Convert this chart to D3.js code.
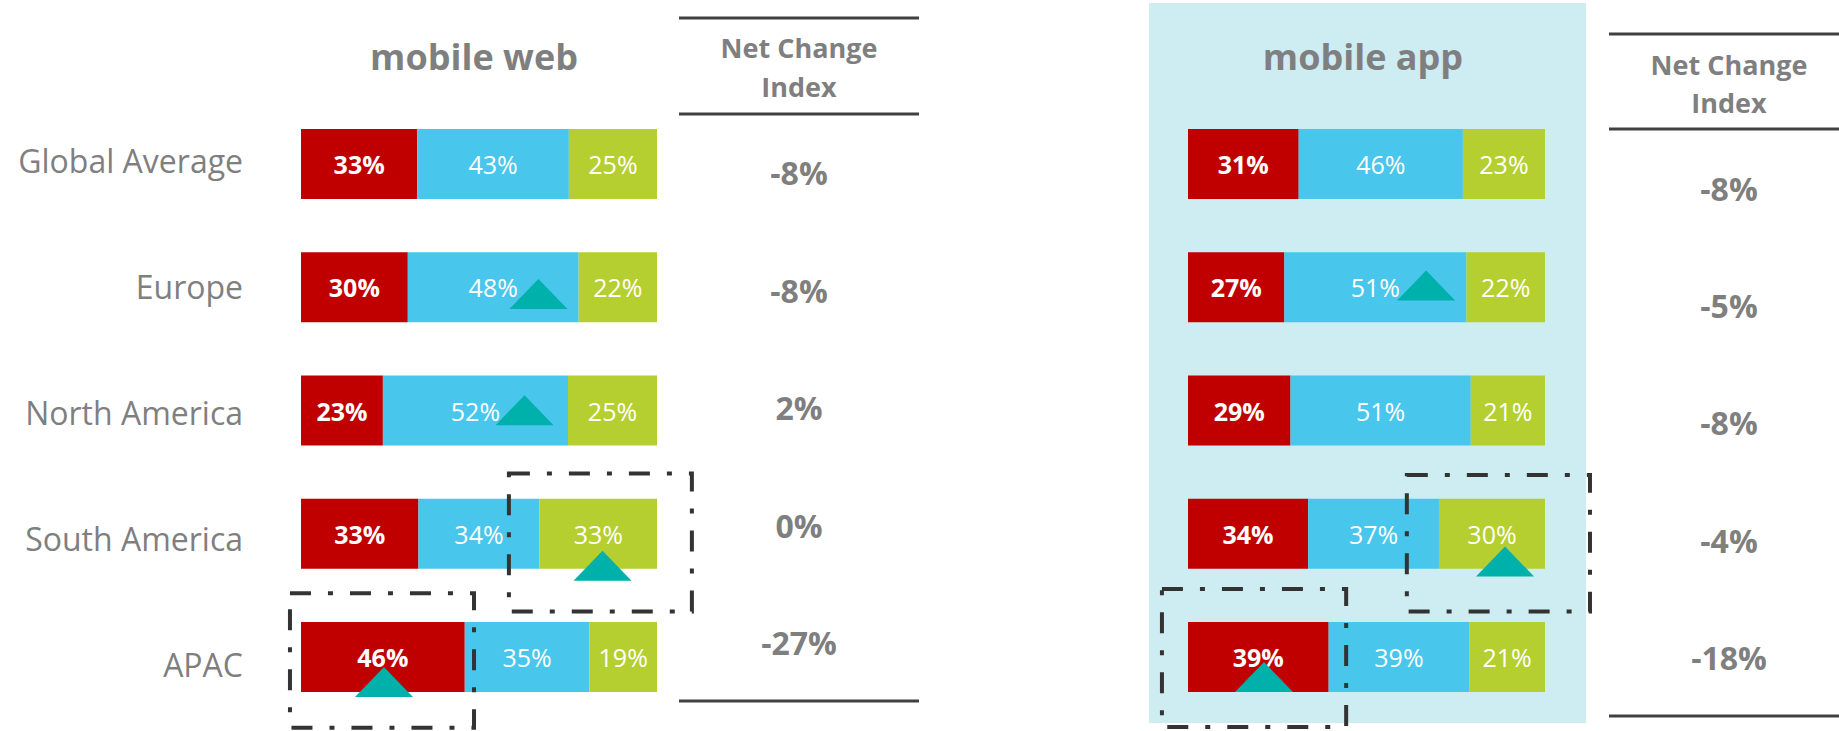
<!DOCTYPE html>
<html>
<head>
<meta charset="utf-8">
<script src="https://cdn.jsdelivr.net/npm/d3@7"></script>
<style>
  html, body { margin: 0; padding: 0; background: #ffffff; }
  svg { display: block; font-family: "Open Sans", "Noto Sans", sans-serif; }
</style>
</head>
<body>
<svg id="chart" width="1839" height="731"></svg>
<script>
// ---------------- DATA ----------------
const regions = ["Global Average", "Europe", "North America", "South America", "APAC"];
const seriesKeys = ["negative", "neutral", "positive"];

const webNegative = [33, 30, 23, 33, 46];
const webNeutral  = [43, 48, 52, 34, 35];
const webPositive = [25, 22, 25, 33, 19];
const webNetChange = [-8, -8, 2, 0, -27];

const appNegative = [31, 27, 29, 34, 39];
const appNeutral  = [46, 51, 51, 37, 39];
const appPositive = [23, 22, 21, 30, 21];
const appNetChange = [-8, -5, -8, -4, -18];

const panelTitles = { web: "mobile web", app: "mobile app" };
const netHeaderLines = ["Net Change", "Index"];

// annotation markers: position along the bar (share 0..1) and base level (share of bar height)
const markerPanel  = ["web", "web", "web", "web", "app", "app", "app"];
const markerRegion = ["Europe", "North America", "South America", "APAC", "Europe", "South America", "APAC"];
const markerAt     = [0.667, 0.628, 0.847, 0.233, 0.667, 0.888, 0.213];
const markerBase   = [0.81, 0.71, 1.17, 1.07, 0.69, 1.11, 1.0];

// highlight boxes: share range along bar, and vertical range as share of bar height
const boxPanel  = ["web", "web", "app", "app"];
const boxRegion = ["South America", "APAC", "South America", "APAC"];
const boxX0 = [0.584, -0.031, 0.613, -0.073];
const boxX1 = [1.098, 0.486, 1.126, 0.443];
const boxY0 = [-0.36, -0.41, -0.34, -0.47];
const boxY1 = [1.61, 1.51, 1.61, 1.50];

// ---------------- BUILD ----------------
const colors = { negative: "#C00000", neutral: "#49C6EC", positive: "#B5CF30" };
const gray = "#7F7F7F";
const lineColor = "#404040";
const teal = "#00B0AA";

function rows(neg, neu, pos) {
  return regions.map((r, i) => ({ region: r, negative: neg[i], neutral: neu[i], positive: pos[i] }));
}
const panelData = {
  web: rows(webNegative, webNeutral, webPositive),
  app: rows(appNegative, appNeutral, appPositive)
};
const netData = { web: webNetChange, app: appNetChange };

const svg = d3.select("#chart");

// layout
const y = d3.scaleBand().domain(regions).range([129, 692]).paddingInner(1 - 70 / 123.25).paddingOuter(0);
const yLabel = d3.scalePoint().domain(regions).range([161.5, 665]);
const xRange = { web: [301, 657], app: [1188, 1545] };
const titleX = { web: 474, app: 1363 };
const net = {
  web: { cx: 799, x0: 679, x1: 919, lines: [18, 114, 701], head: [58, 97], y: d3.scalePoint().domain(regions).range([173.5, 643.5]) },
  app: { cx: 1729, x0: 1609, x1: 1839, lines: [34, 129, 716], head: [75, 113], y: d3.scalePoint().domain(regions).range([189, 658.5]) }
};

// light panel behind mobile app
svg.append("rect").attr("x", 1149).attr("y", 3).attr("width", 1586 - 1149).attr("height", 723 - 3)
  .attr("fill", "#CDEDF2");

// category labels
svg.append("g").selectAll("text").data(regions).join("text")
  .attr("x", 243).attr("y", d => yLabel(d) + 11.5)
  .attr("text-anchor", "end").attr("fill", gray)
  .style("font-size", "32px")
  .text(d => d);

const stack = d3.stack().keys(seriesKeys).offset(d3.stackOffsetExpand);

["web", "app"].forEach(p => {
  const x = d3.scaleLinear().domain([0, 1]).range(xRange[p]);
  const g = svg.append("g");

  // title
  g.append("text").attr("x", titleX[p]).attr("y", 70).attr("text-anchor", "middle")
    .attr("fill", gray).style("font-size", "36px").style("font-weight", 700)
    .text(panelTitles[p]);

  // bars
  const series = stack(panelData[p]);
  const sg = g.selectAll("g.series").data(series).join("g").attr("class", "series")
    .attr("fill", d => colors[d.key]);
  sg.selectAll("rect").data(d => d).join("rect")
    .attr("x", d => x(d[0])).attr("width", d => x(d[1]) - x(d[0]))
    .attr("y", d => y(d.data.region)).attr("height", y.bandwidth());
  sg.selectAll("text").data(d => d.map(v => ({ v, key: d.key }))).join("text")
    .attr("x", d => (x(d.v[0]) + x(d.v[1])) / 2)
    .attr("y", d => y(d.v.data.region) + y.bandwidth() / 2 + 10)
    .attr("text-anchor", "middle").attr("fill", "#ffffff")
    .style("font-size", "25px")
    .style("font-weight", d => d.key === "negative" ? 700 : 400)
    .text(d => d.v.data[d.key] + "%");

  // net change column
  const n = net[p];
  g.selectAll("line.rule").data(n.lines).join("line").attr("class", "rule")
    .attr("x1", n.x0).attr("x2", n.x1).attr("y1", d => d).attr("y2", d => d)
    .attr("stroke", lineColor).attr("stroke-width", 3);
  g.selectAll("text.head").data(netHeaderLines).join("text").attr("class", "head")
    .attr("x", n.cx).attr("y", (d, i) => n.head[i]).attr("text-anchor", "middle")
    .attr("fill", gray).style("font-size", "27px").style("font-weight", 700)
    .text(d => d);
  g.selectAll("text.net").data(regions).join("text").attr("class", "net")
    .attr("x", n.cx).attr("y", d => n.y(d) + 11.5).attr("text-anchor", "middle")
    .attr("fill", gray).style("font-size", "32px").style("font-weight", 700)
    .text((d, i) => `${netData[p][i]}%`);

  // markers
  const markers = markerPanel.map((mp, i) => ({ mp, region: markerRegion[i], at: markerAt[i], base: markerBase[i] }))
    .filter(m => m.mp === p);
  g.selectAll("path.marker").data(markers).join("path").attr("class", "marker")
    .attr("fill", teal)
    .attr("d", m => {
      const cx = x(m.at), by = y(m.region) + m.base * y.bandwidth();
      return `M${cx - 29},${by}L${cx + 29},${by}L${cx},${by - 30}Z`;
    });

  // highlight boxes
  const boxes = boxPanel.map((bp, i) => ({ bp, region: boxRegion[i], x0: boxX0[i], x1: boxX1[i], y0: boxY0[i], y1: boxY1[i] }))
    .filter(b => b.bp === p);
  g.selectAll("path.box").data(boxes).join("path").attr("class", "box")
    .attr("fill", "none").attr("stroke", "#333333").attr("stroke-width", 4)
    .attr("stroke-dasharray", "21,17,5,17")
    .attr("d", b => {
      const l = x(b.x0), r = x(b.x1);
      const t = y(b.region) + b.y0 * y.bandwidth(), bt = y(b.region) + b.y1 * y.bandwidth();
      return `M${l},${t}L${r},${t}L${r},${bt}L${l},${bt}Z`;
    });
});
</script>
</body>
</html>
